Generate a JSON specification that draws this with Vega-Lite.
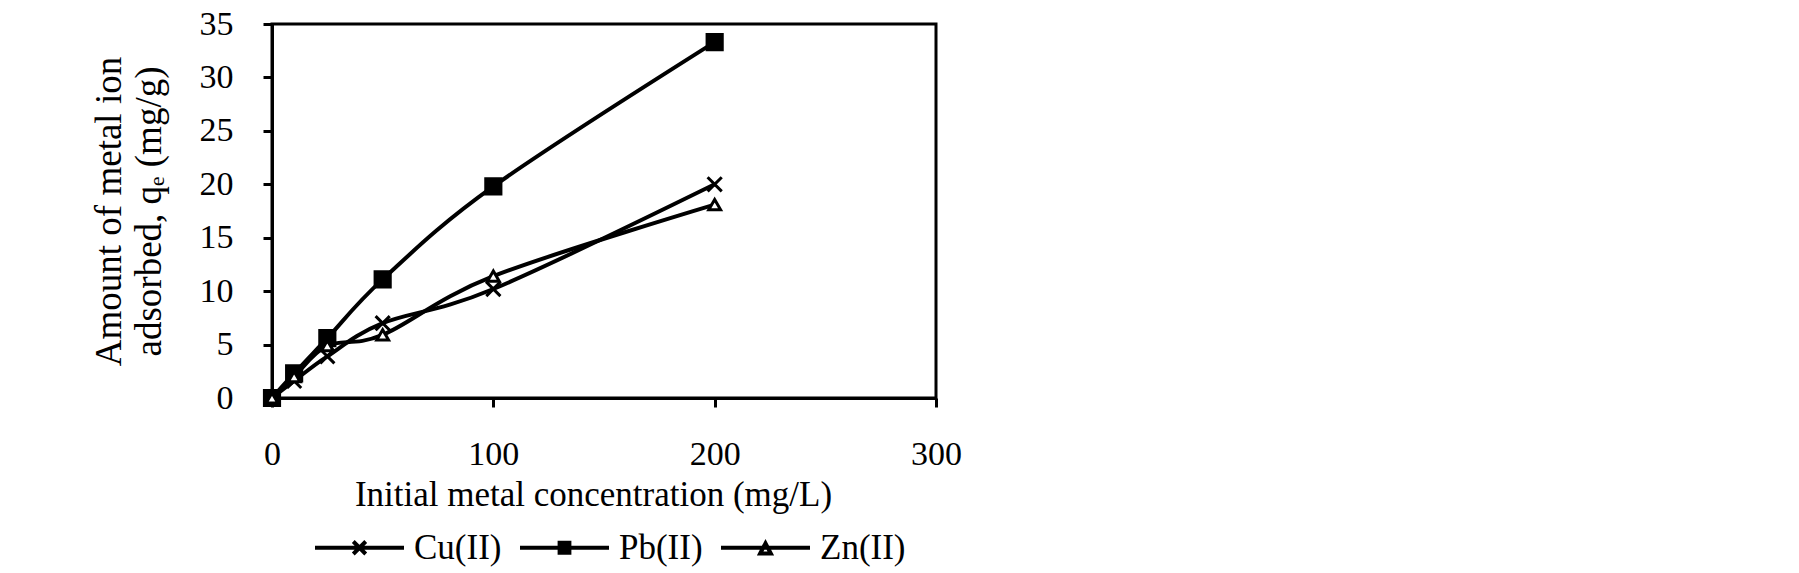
{
  "$schema": "https://vega.github.io/schema/vega-lite/v6.json",
  "width": 664,
  "height": 374,
  "autosize": {"type": "none"},
  "padding": {"left": 272, "top": 24, "right": 863, "bottom": 175},
  "background": "white",
  "config": {
    "font": "Liberation Serif",
    "view": {"stroke": "black", "strokeWidth": 3},
    "axis": {
      "grid": false,
      "domainColor": "black",
      "domainWidth": 3,
      "tickColor": "black",
      "tickWidth": 3,
      "tickSize": 9,
      "labelColor": "black",
      "titleColor": "black",
      "labelFont": "Liberation Serif",
      "titleFont": "Liberation Serif",
      "labelFontSize": 34,
      "titleFontSize": 35,
      "titleFontWeight": "normal",
      "labelFlush": false
    },
    "legend": {
      "orient": "none",
      "direction": "horizontal",
      "legendX": 41,
      "legendY": 477,
      "symbolSize": 7921,
      "symbolStrokeWidth": 4,
      "symbolStrokeColor": "black",
      "symbolOpacity": 1,
      "labelFontSize": 35,
      "labelFont": "Liberation Serif",
      "labelColor": "black",
      "labelOffset": 8,
      "columnPadding": 10,
      "padding": 0
    }
  },
  "data": {
    "values": [
      {"metal": "Cu(II)", "conc": 0, "q": 0},
      {"metal": "Cu(II)", "conc": 10, "q": 1.6},
      {"metal": "Cu(II)", "conc": 25, "q": 3.9},
      {"metal": "Cu(II)", "conc": 50, "q": 7.0},
      {"metal": "Cu(II)", "conc": 100, "q": 10.2},
      {"metal": "Cu(II)", "conc": 200, "q": 20.0},
      {"metal": "Pb(II)", "conc": 0, "q": 0},
      {"metal": "Pb(II)", "conc": 10, "q": 2.3},
      {"metal": "Pb(II)", "conc": 25, "q": 5.6},
      {"metal": "Pb(II)", "conc": 50, "q": 11.1},
      {"metal": "Pb(II)", "conc": 100, "q": 19.8},
      {"metal": "Pb(II)", "conc": 200, "q": 33.3},
      {"metal": "Zn(II)", "conc": 0, "q": 0},
      {"metal": "Zn(II)", "conc": 10, "q": 2.0},
      {"metal": "Zn(II)", "conc": 25, "q": 4.9},
      {"metal": "Zn(II)", "conc": 50, "q": 5.9},
      {"metal": "Zn(II)", "conc": 100, "q": 11.4},
      {"metal": "Zn(II)", "conc": 200, "q": 18.1}
    ]
  },
  "encoding": {
    "x": {
      "field": "conc",
      "type": "quantitative",
      "scale": {"domain": [0, 300], "nice": false, "zero": true},
      "axis": {
        "values": [0, 100, 200, 300],
        "labelPadding": 30,
        "title": "Initial metal concentration (mg/L)",
        "titlePadding": 6,
        "titleX": 321
      }
    },
    "y": {
      "field": "q",
      "type": "quantitative",
      "scale": {"domain": [0, 35], "nice": false},
      "axis": {
        "values": [0, 5, 10, 15, 20, 25, 30, 35],
        "labelPadding": 30,
        "title": ["Amount of metal ion", "adsorbed, qₑ (mg/g)"],
        "titleFontSize": 37,
        "titleLineHeight": 40,
        "titlePadding": 31
      }
    }
  },
  "layer": [
    {
      "mark": {"type": "line", "interpolate": "cardinal", "strokeWidth": 4, "color": "black"},
      "encoding": {"detail": {"field": "metal"}}
    },
    {
      "mark": {"type": "point", "strokeWidth": 3, "opacity": 1, "stroke": "black"},
      "encoding": {
        "shape": {
          "condition": [
            {"test": "datum.metal === 'Cu(II)'", "value": "M-1,-1L1,1M-1,1L1,-1"},
            {"test": "datum.metal === 'Pb(II)'", "value": "square"}
          ],
          "value": "triangle-up"
        },
        "fill": {
          "condition": [
            {"test": "datum.metal === 'Pb(II)'", "value": "black"},
            {"test": "datum.metal === 'Zn(II)'", "value": "white"}
          ],
          "value": "transparent"
        },
        "size": {
          "condition": [
            {"test": "datum.metal === 'Pb(II)'", "value": 230},
            {"test": "datum.metal === 'Zn(II)'", "value": 140}
          ],
          "value": 200
        }
      }
    },
    {
      "transform": [{"filter": "datum.conc < 0"}],
      "mark": {"type": "point", "filled": false, "strokeWidth": 4, "opacity": 1, "stroke": "black", "color": "black"},
      "encoding": {
        "shape": {
          "field": "metal",
          "type": "nominal",
          "scale": {
            "domain": ["Cu(II)", "Pb(II)", "Zn(II)"],
            "range": [
              "M-1,0H1M-0.14,-0.14L0.14,0.14M-0.14,0.14L0.14,-0.14",
              "M-1,0H1M-0.11,-0.11H0.11V0.11H-0.11ZM-0.045,-0.045H0.045V0.045H-0.045Z",
              "M-1,0H1M-0.12,0.13L0,-0.1L0.12,0.13Z"
            ]
          },
          "legend": {"title": null}
        }
      }
    }
  ]
}
